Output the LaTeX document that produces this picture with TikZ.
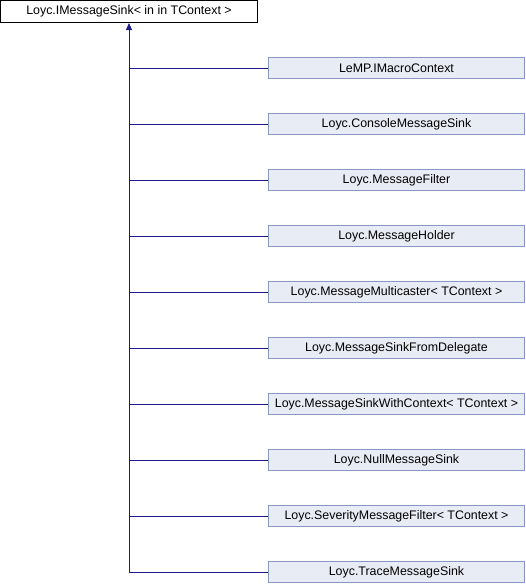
\documentclass[tikz,border=0pt]{standalone}
\usepackage{fontspec}
\setmainfont{Liberation Sans}
\usetikzlibrary{arrows.meta}
\definecolor{boxfill}{RGB}{232,236,244}
\definecolor{boxline}{RGB}{132,154,196}
\definecolor{linkblue}{RGB}{28,28,140}
\begin{document}
\begin{tikzpicture}[x=1pt, y=-1pt, line width=1pt,
  cls/.style={draw=boxline, fill=boxfill, minimum width=256pt, minimum height=21pt, inner sep=0pt, font=\fontsize{12.4}{15}\selectfont},
  base/.style={draw=black, fill=white, minimum width=257pt, minimum height=22pt, inner sep=0pt, font=\fontsize{12.4}{15}\selectfont},
  link/.style={draw=linkblue}]
  \useasboundingbox (0,0) rectangle (526,584);
  \node[base] (sink) at (129,11.5) {Loyc.IMessageSink< in in TContext >};
  \foreach \name [count=\i] in {LeMP.IMacroContext, Loyc.ConsoleMessageSink, Loyc.MessageFilter, Loyc.MessageHolder, Loyc.MessageMulticaster< TContext >, Loyc.MessageSinkFromDelegate, Loyc.MessageSinkWithContext< TContext >, Loyc.NullMessageSink, Loyc.SeverityMessageFilter< TContext >, Loyc.TraceMessageSink} {
    \node[cls] (c\i) at (396.5,12+56*\i) {\name};
    \coordinate (j\i) at (129,12+56*\i);
    \draw[link] (j\i) -- (c\i.west);
  }
  \draw[link, -{Triangle[width=6pt,length=7pt]}] (j10) -- (sink);
\end{tikzpicture}
\end{document}
